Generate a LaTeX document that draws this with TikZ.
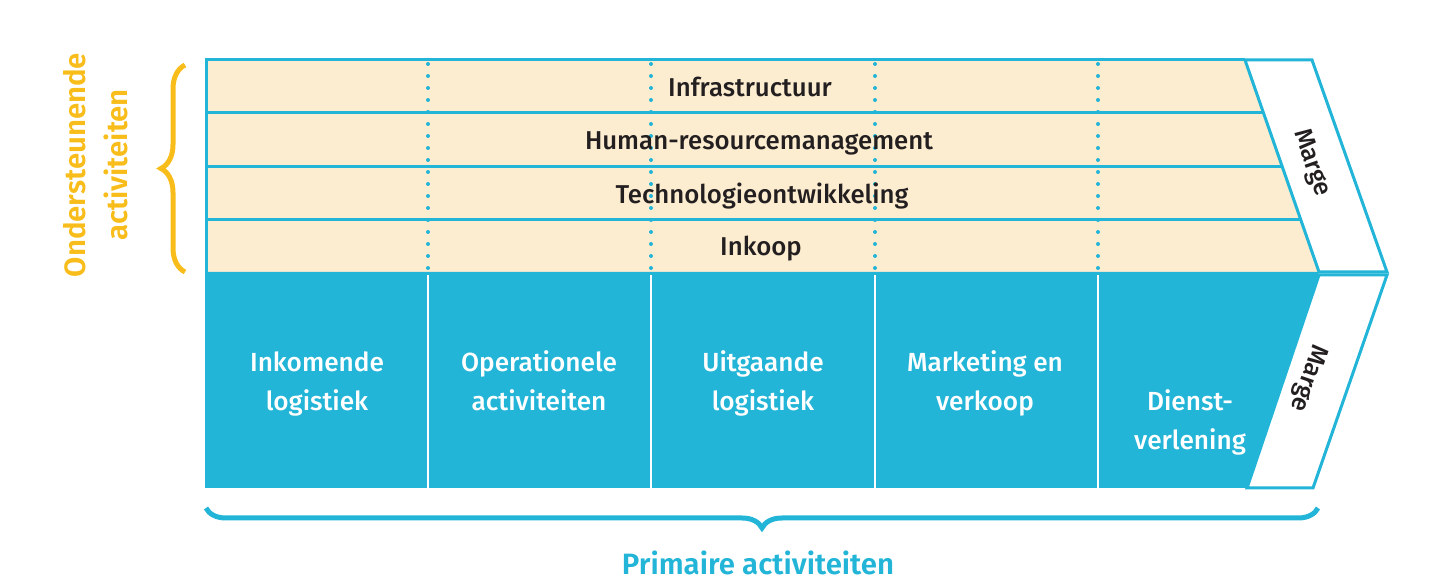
\documentclass[tikz,border=0pt]{standalone}
\usepackage{fontspec}
\setmainfont{Fira Sans}[UprightFont={* Medium},BoldFont={* SemiBold}]
\usetikzlibrary{decorations.pathreplacing}
\definecolor{vblue}{HTML}{22B5D7}
\definecolor{vbeige}{HTML}{FDEDD0}
\definecolor{vyellow}{HTML}{F8BD1A}
\definecolor{vtext}{HTML}{231F20}
\tikzset{
  rowtext/.style={text=vtext, font=\fontsize{12.9}{15}\selectfont, inner sep=0pt, anchor=base},
  coltext/.style={text=white, align=center, font=\fontsize{13.1}{19.5}\selectfont, inner sep=0pt},
  margetext/.style={text=vtext, font=\fontsize{12.5}{15}\selectfont, inner sep=0pt},
  rowline/.style={vblue, line width=1.5pt},
  dotline/.style={vblue, line width=2pt, line cap=round, dash pattern=on 0pt off 6pt},
  colline/.style={white, line width=1pt},
  bandline/.style={vblue, line width=1.5pt, line join=miter},
  bracebig/.style={decorate, decoration={brace, amplitude=#1}, line width=2.5pt},
}
\begin{document}
\begin{tikzpicture}[x=0.5pt,y=-0.5pt]
\useasboundingbox (0,0) rectangle (1452,587);
% beige support area
\fill[vbeige] (206,60) -- (1245,60) -- (1319,272) -- (206,272) -- cycle;
% dotted column separators in support area
\foreach \x in {428,651,875,1098}
  \draw[dotline] (\x,64) -- (\x,272);
% row lines
\draw[rowline] (206,113) -- (1263.5,113);
\draw[rowline] (206,167) -- (1282.3,167);
\draw[rowline] (206,220) -- (1300.8,220);
% primary area
\fill[vblue] (206,272) -- (1319,272) -- (1247,488) -- (206,488) -- cycle;
\foreach \x in {428,651,875,1098}
  \draw[colline] (\x,275) -- (\x,488);
% outer border of support area
\draw[rowline] (1245,60) -- (206,60) -- (206,488);
% margin bands
\draw[bandline, fill=white] (1245,60) -- (1312,60) -- (1387,272) -- (1319,272) -- cycle;
\draw[bandline, fill=white] (1319,275) -- (1387,275) -- (1313,488) -- (1247,488) -- cycle;
% support texts
\node[rowtext] (infra) at (750,97) {Infrastructuur};
\node[rowtext] (hrm) at (759,150) {Human-resourcemanagement};
\node[rowtext] (tech) at (762,204) {Technologieontwikkeling};
\node[rowtext] (inkoop) at (761,256) {Inkoop};
% primary texts
\node[coltext] (inlog) at (317,383.7) {Inkomende\strut\\logistiek\strut};
\node[coltext] (oper) at (539,383.7) {Operationele\strut\\activiteiten\strut};
\node[coltext] (uitlog) at (763,383.7) {Uitgaande\strut\\logistiek\strut};
\node[coltext] (mark) at (985,383.7) {Marketing en\strut\\verkoop\strut};
\node[coltext] (dienst) at (1190,422.7) {Dienst-\strut\\verlening\strut};
% marge labels
\node[margetext, rotate=-70.8] (marge1) at (1311,163) {Marge};
\node[margetext, rotate=-109.2] (marge2) at (1308,378) {Marge};
% braces
\coordinate (lbA) at (185,272);
\coordinate (lbB) at (185,65);
\draw[vyellow, bracebig=12pt] (lbA) -- (lbB);
\coordinate (bbA) at (1318,508);
\coordinate (bbB) at (206,508);
\draw[vblue, bracebig=10pt] (bbA) -- (bbB);
% group labels
\node[text=vyellow, rotate=90, align=center, font=\bfseries\fontsize{14.7}{21}\selectfont, inner sep=0pt] (support) at (96,165) {Ondersteunende\\activiteiten};
\node[text=vblue, font=\bfseries\fontsize{14.7}{17}\selectfont, inner sep=0pt] (primary) at (758,563) {Primaire activiteiten};
\end{tikzpicture}
\end{document}
